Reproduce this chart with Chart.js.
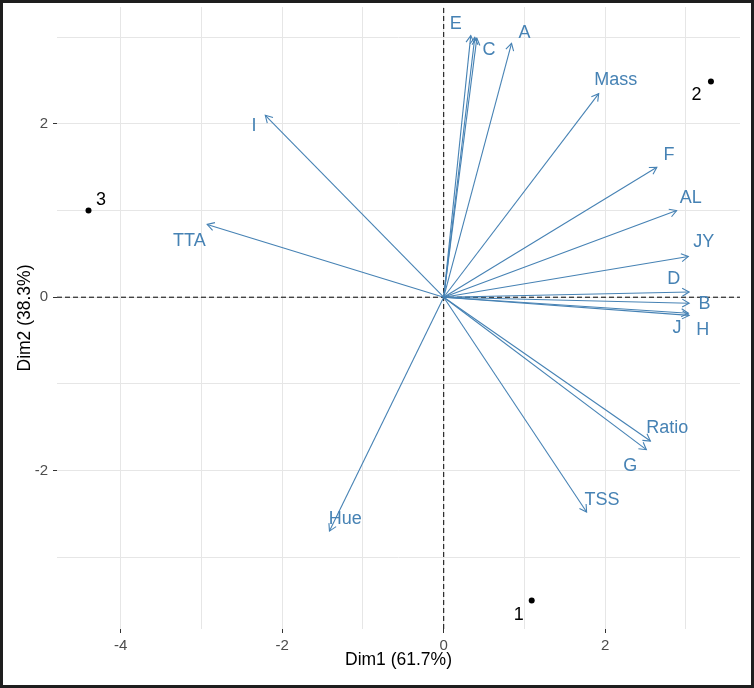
<!DOCTYPE html>
<html>
<head>
<meta charset="utf-8">
<script src="https://cdn.jsdelivr.net/npm/chart.js@4/dist/chart.umd.min.js"></script>
<style>
  html, body { margin: 0; padding: 0; background: #fff; }
  canvas { display: block; }
</style>
</head>
<body>
<canvas id="biplot" width="754" height="688"></canvas>
<script>
// 坐标轴范围与刻度
const xLimits = [-4.79, 3.67];
const yLimits = [-3.83, 3.35];
const xTicks = [-4, -3, -2, -1, 0, 1, 2, 3];
const yTicks = [-3, -2, -1, 0, 1, 2, 3];

// 变量箭头（载荷）
const varNames = ['I', 'TTA', 'Hue', 'E', 'C', '', 'A', 'Mass', 'F', 'AL', 'JY', 'D', 'B', 'J', 'H', 'Ratio', 'G', 'TSS'];
const varX = [-2.21, -2.93, -1.415, 0.335, 0.385, 0.41, 0.84, 1.92, 2.64, 2.885, 3.03, 3.04, 3.04, 3.03, 3.04, 2.56, 2.51, 1.77];
const varY = [2.10, 0.84, -2.70, 3.02, 3.00, 2.99, 2.93, 2.35, 1.50, 1.00, 0.47, 0.06, -0.07, -0.185, -0.21, -1.66, -1.76, -2.48];
const varLabelX = [-2.35, -3.15, -1.22, 0.15, 0.56, 0.41, 1.00, 2.13, 2.79, 3.06, 3.22, 2.85, 3.23, 2.89, 3.21, 2.77, 2.31, 1.96];
const varLabelY = [1.98, 0.65, -2.56, 3.15, 2.85, 2.99, 3.05, 2.51, 1.64, 1.15, 0.64, 0.21, -0.08, -0.36, -0.38, -1.51, -1.95, -2.34];

// 个体点
const indNames = ['1', '2', '3'];
const indX = [1.09, 3.31, -4.40];
const indY = [-3.50, 2.49, 1.00];
const indLabelX = [0.93, 3.13, -4.245];
const indLabelY = [-3.665, 2.33, 1.12];

const arrowColor = '#4682B4';

document.addEventListener('DOMContentLoaded', () => {
    Chart.defaults.font.family = "'Liberation Sans', Arial, sans-serif";

    // 箭头头部、文字标签和外框
    const biplotExtras = {
        id: 'biplotExtras',
        afterDatasetsDraw(chart) {
            const {ctx, scales: {x, y}} = chart;
            ctx.save();
            const ox = x.getPixelForValue(0);
            const oy = y.getPixelForValue(0);
            ctx.strokeStyle = arrowColor;
            ctx.lineWidth = 1.1;
            varNames.forEach((name, i) => {
                const tx = x.getPixelForValue(varX[i]);
                const ty = y.getPixelForValue(varY[i]);
                const ang = Math.atan2(ty - oy, tx - ox);
                const len = 8;
                ctx.beginPath();
                ctx.moveTo(tx - len * Math.cos(ang - Math.PI / 6), ty - len * Math.sin(ang - Math.PI / 6));
                ctx.lineTo(tx, ty);
                ctx.lineTo(tx - len * Math.cos(ang + Math.PI / 6), ty - len * Math.sin(ang + Math.PI / 6));
                ctx.stroke();
            });
            ctx.font = "18px 'Liberation Sans', Arial, sans-serif";
            ctx.textAlign = 'center';
            ctx.textBaseline = 'middle';
            ctx.fillStyle = arrowColor;
            varNames.forEach((name, i) => {
                if (!name) return;
                ctx.fillText(name, x.getPixelForValue(varLabelX[i]), y.getPixelForValue(varLabelY[i]));
            });
            ctx.fillStyle = '#000';
            indNames.forEach((name, i) => {
                ctx.fillText(name, x.getPixelForValue(indLabelX[i]), y.getPixelForValue(indLabelY[i]));
            });
            ctx.restore();
        },
        afterDraw(chart) {
            const {ctx} = chart;
            ctx.save();
            ctx.strokeStyle = '#1e1e1e';
            ctx.lineWidth = 3;
            ctx.strokeRect(1.5, 1.5, chart.width - 3, chart.height - 3);
            ctx.restore();
        }
    };

    const datasets = [];

    // 个体
    datasets.push({
        type: 'scatter',
        data: indX.map((v, i) => ({x: v, y: indY[i]})),
        pointRadius: 3,
        pointBackgroundColor: '#000',
        pointBorderWidth: 0
    });

    // 变量箭头线
    varNames.forEach((name, i) => {
        datasets.push({
            type: 'line',
            data: [{x: 0, y: 0}, {x: varX[i], y: varY[i]}],
            borderColor: arrowColor,
            borderWidth: 1.1,
            pointRadius: 0,
            fill: false
        });
    });

    // 零参考虚线
    datasets.push({
        type: 'line',
        data: [{x: 0, y: yLimits[0]}, {x: 0, y: yLimits[1]}],
        borderColor: '#000',
        borderWidth: 1,
        borderDash: [5, 3],
        pointRadius: 0
    });
    datasets.push({
        type: 'line',
        data: [{x: xLimits[0], y: 0}, {x: xLimits[1], y: 0}],
        borderColor: '#000',
        borderWidth: 1,
        borderDash: [5, 3],
        pointRadius: 0
    });

    const gridColor = '#E6E6E6';
    const even = (v) => Math.abs(v % 2) < 1e-9;

    new Chart(document.getElementById('biplot'), {
        data: {datasets},
        options: {
            responsive: false,
            animation: false,
            layout: {padding: {left: 0, right: 14, top: 7, bottom: 0}},
            plugins: {
                legend: {display: false},
                tooltip: {enabled: false}
            },
            scales: {
                x: {
                    type: 'linear',
                    min: xLimits[0],
                    max: xLimits[1],
                    afterBuildTicks: (scale) => { scale.ticks = xTicks.map(v => ({value: v})); },
                    afterFit: (scale) => {
                        scale.height = 59;
                        scale.paddingLeft = 0;
                        scale.paddingRight = 0;
                    },
                    border: {display: false},
                    grid: {
                        color: gridColor,
                        lineWidth: 1,
                        tickLength: 4,
                        tickColor: (c) => even(c.tick.value) ? '#333' : 'rgba(0,0,0,0)'
                    },
                    ticks: {
                        autoSkip: false,
                        maxRotation: 0,
                        padding: 4,
                        color: '#4D4D4D',
                        font: {size: 15},
                        callback: (v) => even(v) ? String(v) : ''
                    },
                    title: {
                        display: true,
                        text: 'Dim1 (61.7%)',
                        color: '#000',
                        font: {size: 17.5},
                        padding: {top: 0, bottom: 17}
                    }
                },
                y: {
                    type: 'linear',
                    min: yLimits[0],
                    max: yLimits[1],
                    afterBuildTicks: (scale) => { scale.ticks = yTicks.map(v => ({value: v})); },
                    afterFit: (scale) => {
                        scale.width = 57;
                        scale.paddingTop = 0;
                        scale.paddingBottom = 0;
                    },
                    border: {display: false},
                    grid: {
                        color: gridColor,
                        lineWidth: 1,
                        tickLength: 4,
                        tickColor: (c) => even(c.tick.value) ? '#333' : 'rgba(0,0,0,0)'
                    },
                    ticks: {
                        autoSkip: false,
                        padding: 5,
                        color: '#4D4D4D',
                        font: {size: 15},
                        callback: (v) => even(v) ? String(v) : ''
                    },
                    title: {
                        display: true,
                        text: 'Dim2 (38.3%)',
                        color: '#000',
                        font: {size: 17.5},
                        padding: {top: 15, bottom: 0}
                    }
                }
            }
        },
        plugins: [biplotExtras]
    });
});
</script>
</body>
</html>
